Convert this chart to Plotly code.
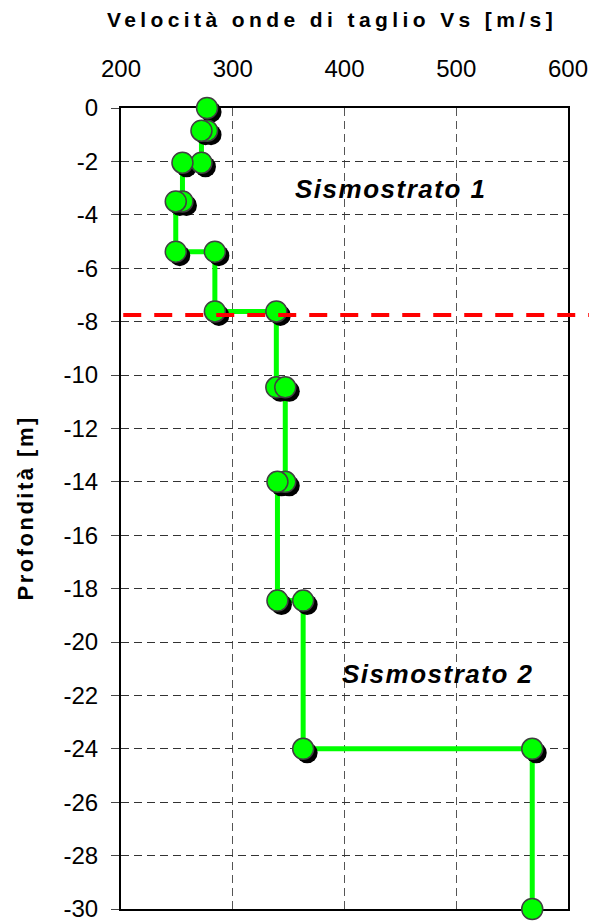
import plotly.graph_objects as go

# ---- data ----
layer_bounds = [0, -0.85, -2.05, -3.5, -5.38, -7.62, -10.46, -14.0, -18.45, -24.0, -30.0]  # depth [m]
layer_vs = [277, 272, 255, 249, 284, 339, 347, 340, 363, 568]  # Vs [m/s]
boundary_depth = -7.75  # sismostrato boundary
x_ticks = [200, 300, 400, 500, 600]
y_ticks = list(range(-30, 1, 2))
y_tick_text = [str(v) for v in y_ticks]
labels_text = ["Sismostrato 1", "Sismostrato 2"]
labels_x = [441, 483]
labels_y = [-3.05, -21.2]
x_title = "Velocità onde di taglio Vs [m/s]"
y_title = "Profondità [m]"

# step profile vertices
xs, ys = [], []
for i, v in enumerate(layer_vs):
    xs += [v, v]
    ys += [layer_bounds[i], layer_bounds[i + 1]]

FONT = "Liberation Sans, Arial, sans-serif"
PAGE_OFFSET = 8  # default body margin of the html page
W, H = 597 - PAGE_OFFSET, 922 - PAGE_OFFSET
L, R, T, B = 121 - PAGE_OFFSET, 29, 108 - PAGE_OFFSET, 13
pw, ph = W - L - R, H - T - B
xr = [200, 600]
yr = [-30, 0]
# shadow offset in px converted to data units
sh = 4
dx = (xr[1] - xr[0]) / pw * sh
dy = (yr[1] - yr[0]) / ph * sh

fig = go.Figure()
fig.add_trace(go.Scatter(x=xs, y=ys, mode="lines",
                         line=dict(color="#00FF00", width=5),
                         hoverinfo="skip", showlegend=False, cliponaxis=False))
fig.add_trace(go.Scatter(x=xs, y=ys, mode="markers", xaxis="x2", yaxis="y2",
                         marker=dict(size=21, color="black", line=dict(width=0)),
                         hoverinfo="skip", showlegend=False, cliponaxis=False))
fig.add_trace(go.Scatter(x=xs, y=ys, mode="markers", xaxis="x3", yaxis="y3",
                         marker=dict(size=21, color="#00FF00",
                                     line=dict(width=1.5, color="#404040")),
                         showlegend=False, cliponaxis=False))

fig.add_shape(type="line", xref="paper", yref="y", x0=0.005, x1=(590 - 121) / pw,
              y0=boundary_depth, y1=boundary_depth,
              line=dict(color="#FF0000", width=4, dash="18px,13px"))

for t, ax, ay in zip(labels_text, labels_x, labels_y):
    fig.add_annotation(x=ax, y=ay, xref="x", yref="y",
                       text=f'<span style="letter-spacing:1.5px">{t}</span>',
                       showarrow=False,
                       font=dict(family=FONT, size=26, color="black",
                                 weight="bold", style="italic"))

# axis titles as paper annotations for exact placement
fig.add_annotation(xref="paper", yref="paper", x=(332 - 121) / pw, y=1 + (108 - 20) / ph,
                   text=f'<span style="letter-spacing:4.4px">{x_title}</span>',
                   showarrow=False, xanchor="center", yanchor="middle",
                   font=dict(family=FONT, size=21, color="black", weight="bold"))
fig.add_annotation(xref="paper", yref="paper", x=(25 - 121) / pw, y=0.5,
                   text=f'<span style="letter-spacing:2.5px">{y_title}</span>',
                   textangle=-90, showarrow=False, xanchor="center", yanchor="middle",
                   font=dict(family=FONT, size=22, color="black", weight="bold"))

fig.update_layout(
    template="none",
    width=W, height=H,
    margin=dict(l=L, r=R, t=T, b=B, autoexpand=False),
    paper_bgcolor="white", plot_bgcolor="white",
    font=dict(family=FONT, color="black"),
    xaxis=dict(side="top", range=xr, tickvals=x_ticks, ticks="", automargin=False,
               showgrid=True, gridcolor="#555555", gridwidth=1, griddash="8px,5px",
               zeroline=False, showline=True, linecolor="black", linewidth=2,
               mirror=True, layer="below traces", ticklabeloverflow="allow",
               tickfont=dict(size=24), ticklabelstandoff=19),
    yaxis=dict(range=yr, tickvals=y_ticks, ticktext=y_tick_text, automargin=False,
               ticks="outside", ticklen=8, tickcolor="#444444", tickwidth=1,
               showgrid=True, gridcolor="#333333", gridwidth=1, griddash="8px,5px",
               zeroline=False, showline=True, linecolor="black", linewidth=2,
               mirror=True, layer="below traces", ticklabeloverflow="allow",
               tickfont=dict(size=24), ticklabelstandoff=8),
    xaxis2=dict(overlaying="x", range=[xr[0] - dx, xr[1] - dx], visible=False),
    yaxis2=dict(overlaying="y", range=[yr[0] + dy, yr[1] + dy], visible=False),
    xaxis3=dict(overlaying="x", range=xr, visible=False),
    yaxis3=dict(overlaying="y", range=yr, visible=False),
)

fig.write_html("out.html")
